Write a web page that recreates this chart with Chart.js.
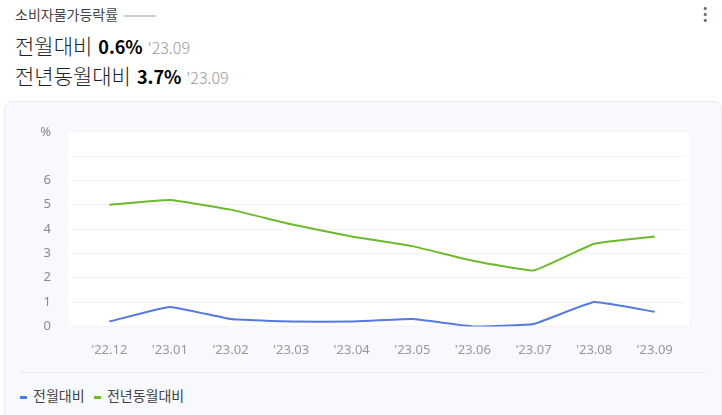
<!DOCTYPE html>
<html>
<head>
<meta charset="utf-8">
<script src="https://cdn.jsdelivr.net/npm/chart.js@4/dist/chart.umd.min.js"></script>
<style>
body { margin: 0; width: 722px; height: 415px; background: #fff; font-family: "Noto Sans CJK KR", "Noto Sans", sans-serif; position: relative; overflow: hidden; }
#title { position: absolute; left: 15px; top: 4px; font-size: 14px; color: #444; }
#title span { display: inline-block; width: 32px; height: 2px; background: #ccc; vertical-align: middle; margin-left: 6px; }
.stat { position: absolute; left: 15px; font-size: 21px; color: #222; font-weight: 300; }
.stat b { font-size: 18px; color: #000; margin-left: 6px; font-weight: bold; }
.stat i { font-style: normal; font-size: 16px; color: #999; margin-left: 5px; }
#dots { position: absolute; right: 12px; top: 4px; font-size: 16px; color: #666; font-weight: bold; line-height: 6px; }
#card { position: absolute; left: 4px; top: 101px; width: 716px; height: 320px; background: #f7f9fc; border: 1px solid #e8ecf1; border-radius: 8px; }
#wrap { position: absolute; left: 20px; top: 104px; width: 690px; height: 262px; }
#sep { position: absolute; left: 20px; top: 372px; width: 685px; height: 1px; background: #e6e9ee; }
#legend { position: absolute; left: 20px; top: 385px; font-size: 14px; color: #444; }
#legend span { display: inline-block; width: 7px; height: 3px; vertical-align: middle; margin-right: 6px; }
</style>
</head>
<body>
<div id="title">소비자물가등락률<span></span></div>
<div id="dots">·<br>·<br>·</div>
<div class="stat" style="top:30px">전월대비<b>0.6%</b><i>'23.09</i></div>
<div class="stat" style="top:60px">전년동월대비<b>3.7%</b><i>'23.09</i></div>
<div id="card"></div>
<div id="wrap"><canvas id="chart"></canvas></div>
<div id="sep"></div>
<div id="legend"><span style="background:#5479e0"></span>전월대비 &nbsp;&nbsp;<span style="background:#6cbb2d"></span>전년동월대비</div>
<script>
var labels = ["'22.12", "'23.01", "'23.02", "'23.03", "'23.04", "'23.05", "'23.06", "'23.07", "'23.08", "'23.09"];
var momValues = [0.2, 0.8, 0.3, 0.2, 0.2, 0.3, 0.0, 0.1, 1.0, 0.6];
var yoyValues = [5.0, 5.2, 4.8, 4.2, 3.7, 3.3, 2.7, 2.3, 3.4, 3.7];

var whiteArea = {
    id: 'whiteArea',
    beforeDraw: function (chart) {
        var a = chart.chartArea;
        var ctx = chart.ctx;
        ctx.save();
        ctx.fillStyle = '#fff';
        ctx.fillRect(a.left - 10, a.top, a.right - a.left + 14, a.bottom - a.top);
        ctx.restore();
    }
};

var ctx = document.getElementById('chart').getContext('2d');
var myChart = new Chart(ctx, {
    type: 'line',
    data: {
        labels: labels,
        datasets: [{
            label: '전월대비',
            data: momValues,
            borderColor: '#5479e0',
            borderWidth: 2,
            pointRadius: 0,
            tension: 0.1
        }, {
            label: '전년동월대비',
            data: yoyValues,
            borderColor: '#6cbb2d',
            borderWidth: 2,
            pointRadius: 0,
            tension: 0.1
        }]
    },
    options: {
        responsive: true,
        maintainAspectRatio: false,
        animation: false,
        layout: { padding: { top: 23, right: 25 } },
        plugins: { legend: { display: false }, tooltip: { enabled: false } },
        scales: {
            x: {
                offset: true,
                grid: { display: false },
                border: { display: false },
                ticks: { color: '#999', font: { family: 'Noto Sans', size: 13 }, padding: 8 }
            },
            y: {
                min: 0,
                max: 8,
                afterFit: function (s) { s.width = 59; },
                grid: { color: '#f0f2f5' },
                border: { display: false },
                ticks: {
                    stepSize: 1,
                    color: '#888',
                    padding: 20,
                    font: { family: 'Noto Sans', size: 13 },
                    callback: function (v) { return v == 8 ? '%' : (v == 7 ? '' : v); }
                }
            }
        }
    },
    plugins: [whiteArea]
});
</script>
</body>
</html>
